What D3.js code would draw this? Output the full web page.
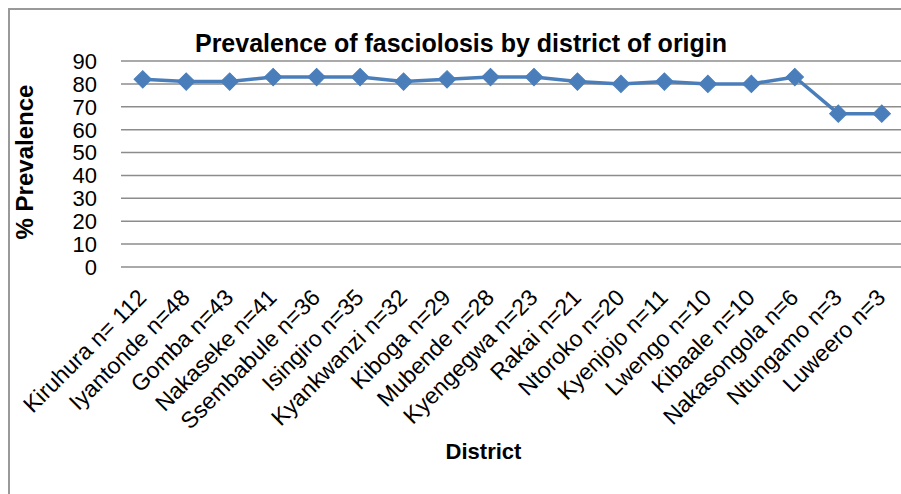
<!DOCTYPE html>
<html>
<head>
<meta charset="utf-8">
<script src="https://cdn.jsdelivr.net/npm/d3@7"></script>
<style>
  body { margin: 0; background: #fff; }
  svg { display: block; font-family: "Liberation Sans", Arial, sans-serif; }
</style>
</head>
<body>
<svg id="chart" width="901" height="494"></svg>
<script>
// districts (with sample size) and % prevalence
var districts = ["Kiruhura n= 112", "Iyantonde n=48", "Gomba n=43", "Nakaseke n=41",
  "Ssembabule n=36", "Isingiro n=35", "Kyankwanzi n=32", "Kiboga n=29", "Mubende n=28",
  "Kyengegwa n=23", "Rakai n=21", "Ntoroko n=20", "Kyenjojo n=11", "Lwengo n=10",
  "Kibaale n=10", "Nakasongola n=6", "Ntungamo n=3", "Luweero n=3"];
var prevalence = [82, 81, 81, 83, 83, 83, 81, 82, 83, 83, 81, 80, 81, 80, 80, 83, 67, 67];
var yTicks = [0, 10, 20, 30, 40, 50, 60, 70, 80, 90];

var svg = d3.select("#chart");

// chart area frame (only top and left edges fall inside the picture)
svg.append("rect")
  .attr("x", 9).attr("y", 9)
  .attr("width", 1000).attr("height", 1000)
  .attr("fill", "none")
  .attr("stroke", "#999")
  .attr("stroke-width", 2);

var x = d3.scaleBand().domain(districts).range([121, 903.5]);
var y = d3.scaleLinear().domain([0, 90]).range([267, 61]);

// gridlines
svg.append("g")
  .selectAll("line")
  .data(yTicks)
  .join("line")
  .attr("x1", 121).attr("x2", 901)
  .attr("y1", function(d){ return y(d); })
  .attr("y2", function(d){ return y(d); })
  .attr("stroke", "#8c8c8c")
  .attr("stroke-width", 1.5);

// y tick labels
svg.append("g")
  .selectAll("text")
  .data(yTicks)
  .join("text")
  .attr("x", 97)
  .attr("y", function(d){ return y(d); })
  .attr("dy", "0.36em")
  .attr("text-anchor", "end")
  .attr("font-size", 22)
  .attr("fill", "#000")
  .text(function(d){ return d; });

// category labels, rotated
svg.append("g")
  .selectAll("text")
  .data(districts)
  .join("text")
  .attr("transform", function(d){
    return "translate(" + (x(d) + x.bandwidth()/2 + 5) + ",299) rotate(-45)";
  })
  .attr("text-anchor", "end")
  .attr("font-size", 23)
  .attr("fill", "#000")
  .text(function(d){ return d; });

// series line
var cx = function(d, i){ return x(districts[i]) + x.bandwidth()/2; };
var line = d3.line()
  .x(cx)
  .y(function(d){ return y(d); });

svg.append("path")
  .datum(prevalence)
  .attr("d", line)
  .attr("fill", "none")
  .attr("stroke", "#4a7ebb")
  .attr("stroke-width", 3.5)
  .attr("stroke-linejoin", "round");

// diamond markers (square turned 45deg, as Excel draws them)
var diamond = d3.symbol().type(d3.symbolSquare).size(150);
svg.append("g")
  .selectAll("path")
  .data(prevalence)
  .join("path")
  .attr("d", diamond)
  .attr("transform", function(d, i){
    return "translate(" + cx(d, i) + "," + y(d) + ") rotate(45)";
  })
  .attr("fill", "#4a7ebb")
  .attr("stroke", "#4a7ebb")
  .attr("stroke-width", 1);

// titles
svg.append("text")
  .attr("x", 461).attr("y", 52)
  .attr("text-anchor", "middle")
  .attr("font-size", 25)
  .attr("font-weight", "bold")
  .text("Prevalence of fasciolosis by district of origin");

svg.append("text")
  .attr("x", 483.5).attr("y", 459)
  .attr("text-anchor", "middle")
  .attr("font-size", 22)
  .attr("font-weight", "bold")
  .text("District");

svg.append("text")
  .attr("transform", "translate(33,162) rotate(-90)")
  .attr("text-anchor", "middle")
  .attr("font-size", 24)
  .attr("font-weight", "bold")
  .text("% Prevalence");
</script>
</body>
</html>
